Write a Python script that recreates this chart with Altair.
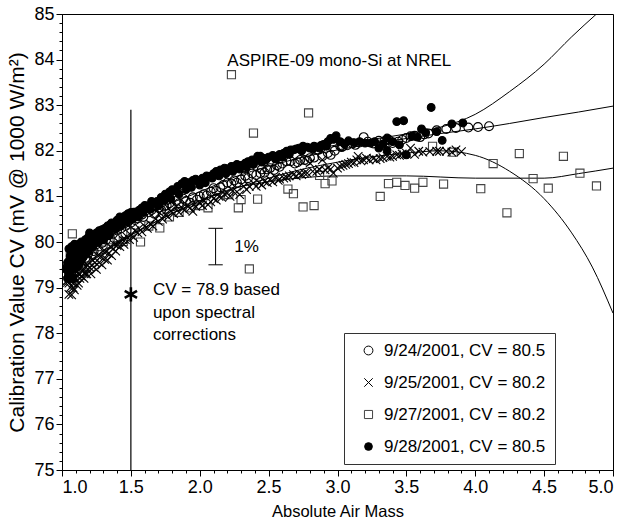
import altair as alt
import pandas as pd

FONT = "Liberation Sans"

# ---------------- measured data (read from the picture) ----------------
# 9/24/2001 (open circles)
c24_x = [1.04, 1.05, 1.06, 1.07, 1.08, 1.09, 1.10, 1.11, 1.12, 1.14, 1.16, 1.18, 1.20, 1.22, 1.24,
         1.26, 1.28, 1.30, 1.33, 1.36, 1.39, 1.42, 1.45, 1.48, 1.52, 1.55, 1.58, 1.61, 1.65, 1.70,
         1.74, 1.78, 1.83, 1.88, 1.93, 1.98, 2.03, 2.08, 2.10, 2.15, 2.20, 2.25, 2.30, 2.33, 2.33,
         2.38, 2.44, 2.45, 2.49, 2.51, 2.56, 2.60, 2.63, 2.66, 2.69, 2.73, 2.76, 2.80, 2.86, 2.89,
         2.90, 2.95, 3.02, 3.03, 3.04, 3.11, 3.13, 3.19, 3.22, 3.26, 3.34, 3.40, 3.47, 3.53, 3.60,
         3.66, 3.72, 3.79, 3.86, 3.95, 4.02, 4.10,
         1.11, 1.13, 1.15, 1.17, 1.19, 1.21, 1.23, 1.25, 1.27, 1.29, 1.31, 1.32, 1.34, 1.35, 1.37,
         1.38, 1.40, 1.41, 1.43, 1.44, 1.46, 1.47, 1.50, 1.53, 1.56, 1.59, 1.63, 1.67, 1.68, 1.72,
         1.76, 1.80, 1.85, 1.90, 1.95, 2.00, 2.05, 2.12, 2.17, 2.23, 2.27, 2.35, 2.41, 2.47, 2.54,
         2.58, 2.71, 2.78, 2.83, 2.93, 2.98, 3.07, 3.16, 3.30, 3.37, 3.44, 3.50, 3.56, 3.63]
c24_y = [79.45, 79.25, 79.60, 79.35, 79.70, 79.50, 79.75, 79.55, 79.80, 79.70, 79.85, 79.80, 79.95, 79.90, 80.05,
         80.00, 80.10, 80.08, 80.20, 80.25, 80.30, 80.35, 80.40, 80.45, 80.64, 80.52, 80.60, 80.78, 80.70, 80.75,
         80.78, 80.85, 80.90, 80.95, 80.86, 80.93, 81.05, 81.10, 81.18, 81.20, 81.30, 81.35, 81.37, 81.45, 81.62,
         81.50, 81.51, 81.59, 81.59, 81.62, 81.68, 81.72, 81.77, 81.77, 81.72, 81.80, 81.80, 81.84, 82.02, 81.88,
         82.13, 81.91, 82.10, 82.08, 82.10, 82.16, 82.13, 82.30, 82.20, 82.16, 82.21, 82.17, 82.24, 82.32, 82.30,
         82.38, 82.45, 82.48, 82.50, 82.51, 82.52, 82.54,
         79.90, 79.60, 79.90, 79.65, 79.75, 80.00, 79.80, 79.95, 80.05, 79.98, 80.15, 80.05, 80.15, 80.30, 80.18,
         80.35, 80.25, 80.40, 80.30, 80.45, 80.35, 80.50, 80.42, 80.48, 80.60, 80.55, 80.65, 80.62, 80.78, 80.70,
         80.80, 80.78, 80.85, 80.90, 80.98, 81.00, 81.02, 81.12, 81.25, 81.28, 81.30, 81.40, 81.47, 81.52, 81.58,
         81.65, 81.75, 81.78, 81.85, 81.95, 82.00, 82.12, 82.18, 82.22, 82.25, 82.20, 82.28, 82.33, 82.36]

# 9/25/2001 (crosses)
c25_x = [1.04, 1.05, 1.05, 1.06, 1.06, 1.07, 1.07, 1.08, 1.08, 1.09, 1.09, 1.10, 1.10, 1.11, 1.12,
         1.13, 1.14, 1.15, 1.16, 1.18, 1.20, 1.22, 1.24, 1.26, 1.28, 1.30, 1.32, 1.35, 1.38, 1.41,
         1.44, 1.47, 1.50, 1.53, 1.56, 1.60, 1.64, 1.68, 1.71, 1.75, 1.79, 1.83, 1.87, 1.91, 1.95,
         2.00, 2.03, 2.06, 2.10, 2.14, 2.18, 2.20, 2.24, 2.29, 2.32, 2.36, 2.39, 2.43, 2.47, 2.51,
         2.55, 2.58, 2.61, 2.65, 2.68, 2.72, 2.76, 2.78, 2.80, 2.82, 2.87, 2.89, 2.93, 2.97, 3.02,
         3.06, 3.10, 3.14, 3.15, 3.19, 3.21, 3.26, 3.28, 3.33, 3.36, 3.40, 3.43, 3.47, 3.50, 3.53,
         3.56, 3.59, 3.62, 3.67, 3.72, 3.74, 3.79, 3.83, 3.86, 3.90,
         1.05, 1.06, 1.08, 1.09, 1.11, 1.12, 1.13, 1.15, 1.17, 1.19,
         1.12, 1.14, 1.16, 1.18, 1.20, 1.21, 1.23, 1.25, 1.27, 1.29, 1.31, 1.33, 1.34, 1.36, 1.37,
         1.39, 1.40, 1.42, 1.45, 1.46, 1.49, 1.52, 1.55, 1.58, 1.62, 1.66, 1.70, 1.73, 1.77, 1.81,
         1.85, 1.89, 1.93, 1.97, 2.02, 2.08, 2.12, 2.16, 2.22, 2.27, 2.34, 2.41, 2.45, 2.49, 2.53,
         2.57, 2.63, 2.70, 2.74, 2.85, 2.91, 2.95, 3.00, 3.04, 3.08, 3.12, 3.17, 3.23, 3.31, 3.38, 3.45]
c25_y = [79.15, 78.85, 79.45, 79.00, 79.60, 78.84, 79.30, 79.10, 79.50, 78.95, 79.40, 79.20, 79.60, 79.35, 79.10,
         79.45, 79.25, 79.55, 79.40, 79.50, 79.45, 79.60, 79.55, 79.70, 79.68, 79.80, 79.78, 79.90, 79.95, 80.00,
         80.05, 80.12, 80.15, 80.25, 80.30, 80.35, 80.40, 80.50, 80.64, 80.60, 80.68, 80.78, 80.75, 80.80, 80.67,
         80.85, 80.90, 80.82, 80.95, 81.00, 81.05, 81.07, 81.12, 81.04, 81.22, 81.22, 81.29, 81.30, 81.33, 81.37,
         81.42, 81.38, 81.40, 81.45, 81.48, 81.50, 81.51, 81.51, 81.73, 81.55, 81.59, 81.80, 81.62, 81.51, 81.66,
         81.70, 81.75, 81.80, 81.88, 81.80, 81.84, 81.83, 81.80, 81.85, 81.88, 81.88, 81.91, 81.93, 81.95, 82.06,
         81.92, 81.99, 81.97, 81.98, 81.99, 81.99, 81.99, 81.97, 82.02, 81.98,
         79.10, 79.25, 79.00, 79.20, 79.05, 79.30, 79.20, 79.35, 79.30, 79.40,
         79.55, 79.65, 79.20, 79.30, 79.70, 79.30, 79.45, 79.40, 79.55, 79.50, 79.62, 79.60, 79.75, 79.70, 79.85,
         79.80, 79.92, 79.90, 79.95, 80.05, 80.05, 80.10, 80.20, 80.22, 80.30, 80.35, 80.45, 80.50, 80.55, 80.62,
         80.65, 80.70, 80.75, 80.78, 80.80, 80.88, 80.92, 80.98, 81.00, 81.10, 81.15, 81.22, 81.25, 81.30, 81.32,
         81.35, 81.42, 81.45, 81.48, 81.55, 81.58, 81.60, 81.62, 81.68, 81.72, 81.74, 81.78, 81.80, 81.83, 81.86, 81.90]

# 9/27/2001 (open squares)
c27_x = [1.05, 1.06, 1.07, 1.075, 1.08, 1.09, 1.10, 1.12, 1.15, 1.18, 1.22, 1.26, 1.30, 1.35, 1.40,
         1.445, 1.50, 1.57, 1.63, 1.71, 1.78, 1.85, 1.93, 2.00, 2.06, 2.21, 2.23, 2.28, 2.30, 2.36,
         2.39, 2.42, 2.64, 2.68, 2.75, 2.79, 2.83, 2.87, 2.91, 2.96, 3.31, 3.37, 3.43, 3.49, 3.56,
         3.62, 3.69, 3.77, 3.84, 4.04, 4.13, 4.23, 4.32, 4.42, 4.53, 4.64, 4.76, 4.88]
c27_y = [79.40, 79.70, 79.20, 80.18, 79.55, 79.85, 79.45, 79.65, 79.75, 79.60, 79.85, 79.90, 80.00, 80.05, 80.10,
         80.01, 80.20, 80.00, 80.35, 80.31, 80.55, 80.65, 80.75, 80.80, 80.75, 81.04, 83.67, 80.75, 80.93, 79.41,
         82.39, 80.94, 81.16, 81.06, 80.77, 82.83, 80.80, 81.46, 81.28, 81.34, 81.00, 81.28, 81.31, 81.24, 81.18,
         81.31, 82.10, 81.27, 81.97, 81.17, 81.72, 80.64, 81.94, 81.39, 81.18, 81.88, 81.51, 81.23]

# 9/28/2001 (filled dots)
c28_x = [1.04, 1.05, 1.05, 1.06, 1.06, 1.07, 1.07, 1.08, 1.08, 1.09, 1.09, 1.10, 1.10, 1.11, 1.12,
         1.12, 1.13, 1.14, 1.15, 1.16, 1.17, 1.18, 1.19, 1.20, 1.21, 1.22, 1.23, 1.24, 1.25, 1.26,
         1.27, 1.28, 1.29, 1.30, 1.31, 1.32, 1.33, 1.34, 1.35, 1.36, 1.38, 1.40, 1.42, 1.44, 1.46,
         1.48, 1.50, 1.52, 1.54, 1.56, 1.58, 1.60, 1.62, 1.65, 1.67, 1.69, 1.72, 1.75, 1.78, 1.80,
         1.82, 1.84, 1.87, 1.89, 1.92, 1.95, 1.97, 1.99, 2.02, 2.05, 2.07, 2.10, 2.12, 2.15, 2.18,
         2.20, 2.23, 2.25, 2.27, 2.30, 2.33, 2.35, 2.38, 2.40, 2.42, 2.44, 2.46, 2.50, 2.53, 2.56,
         2.58, 2.61, 2.63, 2.66, 2.68, 2.70, 2.72, 2.75, 2.78, 2.80, 2.83, 2.85, 2.88, 2.90, 2.93,
         2.95, 2.97, 2.99, 3.02, 3.05, 3.08, 3.12, 3.16, 3.20, 3.24, 3.27, 3.30, 3.33, 3.36, 3.36,
         3.40, 3.43, 3.45, 3.48, 3.50, 3.54, 3.58, 3.61, 3.64, 3.68, 3.72, 3.76, 3.83, 3.91,
         1.03, 1.04, 1.06, 1.08, 1.11, 1.13, 1.15, 1.17, 1.19, 1.22, 1.26, 1.30, 1.34, 1.39, 1.43,
         1.47, 1.51, 1.55, 1.59, 1.64, 1.70, 1.74, 1.79, 1.85, 1.90, 1.94, 2.00, 2.04, 2.09, 2.14,
         2.19, 2.24, 2.29, 2.34, 2.39, 2.45, 2.48, 2.55, 2.60, 2.65, 2.74, 2.82, 2.87, 2.92]
c28_y = [79.55, 79.85, 79.30, 79.70, 79.45, 79.90, 79.60, 79.75, 79.40, 79.95, 79.65, 79.85, 79.55, 79.75, 79.95,
         79.65, 79.85, 80.00, 79.80, 79.95, 80.05, 79.85, 80.10, 80.20, 79.95, 80.05, 80.15, 80.00, 80.20, 80.10,
         80.25, 80.15, 80.27, 80.20, 80.30, 80.25, 80.35, 80.28, 80.38, 80.42, 80.40, 80.48, 80.55, 80.50, 80.58,
         80.62, 80.65, 80.60, 80.66, 80.70, 80.75, 80.80, 80.78, 80.89, 80.85, 80.89, 80.98, 81.05, 81.10, 81.15,
         81.12, 81.22, 81.28, 81.33, 81.30, 81.35, 81.38, 81.33, 81.40, 81.45, 81.44, 81.50, 81.55, 81.58, 81.62,
         81.60, 81.66, 81.65, 81.70, 81.68, 81.73, 81.76, 81.80, 81.78, 81.88, 81.88, 81.84, 81.86, 81.90, 81.88,
         81.92, 81.95, 81.99, 82.02, 82.02, 82.04, 82.06, 82.10, 82.08, 82.06, 82.10, 82.08, 82.12, 82.13, 82.20,
         82.27, 82.25, 82.33, 82.20, 82.15, 82.22, 82.18, 82.20, 82.17, 82.17, 82.20, 82.06, 82.15, 82.28, 82.01,
         82.20, 82.64, 82.13, 82.66, 81.91, 82.32, 82.30, 82.48, 82.40, 82.95, 82.42, 82.23, 82.59, 82.61,
         79.40, 79.20, 79.25, 79.20, 79.45, 79.55, 79.65, 79.75, 79.80, 79.90, 80.00, 80.05, 80.15, 80.30, 80.38,
         80.45, 80.50, 80.55, 80.65, 80.72, 80.80, 80.90, 80.95, 81.05, 81.15, 81.20, 81.25, 81.30, 81.40, 81.45,
         81.50, 81.55, 81.60, 81.65, 81.70, 81.75, 81.80, 81.82, 81.86, 81.92, 82.00, 82.04, 82.06, 82.10]

# fitted curves
fit24_x = [1.0, 1.25, 1.5, 1.75, 2.0, 2.25, 2.5, 2.75, 3.0, 3.25, 3.5, 3.75, 4.0, 4.25, 4.5, 4.75, 5.0]
fit24_y = [79.35, 79.95, 80.40, 80.80, 81.10, 81.42, 81.66, 81.86, 82.02, 82.15, 82.27, 82.38, 82.48, 82.60, 82.73, 82.85, 82.98]
fit25_x = [1.0, 1.25, 1.5, 1.75, 2.0, 2.25, 2.5, 2.75, 3.0, 3.25, 3.5, 3.75, 4.0, 4.25, 4.5, 4.7, 4.85, 5.0]
fit25_y = [79.05, 79.70, 80.15, 80.55, 80.90, 81.17, 81.40, 81.60, 81.75, 81.87, 81.95, 82.00, 81.90, 81.55, 80.95, 80.20, 79.45, 78.44]
fit27_x = [1.0, 1.25, 1.5, 1.75, 2.0, 2.25, 2.5, 2.75, 3.0, 3.5, 4.0, 4.5, 4.75, 5.0]
fit27_y = [79.00, 79.65, 80.15, 80.55, 80.90, 81.18, 81.32, 81.41, 81.45, 81.45, 81.40, 81.40, 81.50, 81.62]
fit28_x = [1.0, 1.25, 1.5, 1.75, 2.0, 2.25, 2.5, 2.75, 3.0, 3.25, 3.5, 3.75, 4.0, 4.25, 4.5, 4.7, 4.88]
fit28_y = [79.45, 80.10, 80.60, 81.00, 81.30, 81.62, 81.85, 82.00, 82.13, 82.25, 82.37, 82.52, 82.80, 83.30, 83.90, 84.50, 85.00]

SERIES = ["9/24/2001, CV = 80.5", "9/25/2001, CV = 80.2", "9/27/2001, CV = 80.2", "9/28/2001, CV = 80.5"]

# annotations
vline_x, vline_lo, vline_hi = [1.5], [75.0], [82.9]
star_x, star_y = [1.5], [78.85]
note_x = [2.20, 1.66, 1.66, 1.66, 2.25]
note_y = [83.98, 78.95, 78.45, 77.95, 79.90]
note_t = ["ASPIRE-09 mono-Si at NREL", "CV = 78.9 based", "upon spectral", "corrections", "1%"]
bar_x, bar_lo, bar_hi = [2.115], [79.5], [80.3]
cap_x1, cap_x2, cap_y = [2.063, 2.063], [2.167, 2.167], [80.3, 79.5]

x_major = [1.0, 1.5, 2.0, 2.5, 3.0, 3.5, 4.0, 4.5, 5.0]
y_major = [75, 76, 77, 78, 79, 80, 81, 82, 83, 84, 85]
x_minor = [round(1.0 + 0.1 * i, 1) for i in range(41)]
y_minor = [round(75.0 + 0.2 * i, 1) for i in range(51)]

# ---------------- tables ----------------
rows = []
for name, xs_, ys_ in [(SERIES[2], c27_x, c27_y), (SERIES[0], c24_x, c24_y),
                       (SERIES[1], c25_x, c25_y), (SERIES[3], c28_x, c28_y)]:
    for a, b in zip(xs_, ys_):
        rows.append({"series": name, "am": a, "cv": b})
pts = pd.DataFrame(rows)

frows = []
for name, xs_, ys_ in [("f24", fit24_x, fit24_y), ("f25", fit25_x, fit25_y),
                       ("f27", fit27_x, fit27_y), ("f28", fit28_x, fit28_y)]:
    for a, b in zip(xs_, ys_):
        frows.append({"curve": name, "am": a, "cv": b})
fits = pd.DataFrame(frows)

XS = alt.Scale(domain=[1, 5], nice=False, zero=False)
YS = alt.Scale(domain=[75, 85], nice=False, zero=False)

X_PATH = "M-1,-1L1,1M-1,1L1,-1"
STAR_PATH = "M0,-1L0,1M-0.87,-0.5L0.87,0.5M-0.87,0.5L0.87,-0.5"
NBSP = "\u00a0"

legend = alt.Legend(title=None, orient="none", legendX=282, legendY=319, padding=9,
                    rowPadding=14, labelFontSize=17, labelFont=FONT, labelColor="black",
                    labelLimit=400, strokeColor="#333333", fillColor="white",
                    symbolStrokeColor="black", symbolStrokeWidth=1, labelOffset=7,
                    symbolOffset=7, labelExpr="datum.label + '" + NBSP * 4 + "'")

major_x = alt.Axis(values=x_major, format=".1f", title="Absolute Air Mass", orient="bottom",
                   tickSize=6, labelFontSize=18, titleFontSize=16.5, labelPadding=2,
                   titlePadding=7, grid=False)
major_y = alt.Axis(values=y_major, format="d", title="Calibration Value CV (mV @ 1000 W/m²)",
                   orient="left", tickSize=6, labelFontSize=18, titleFontSize=21,
                   labelPadding=2, titlePadding=6, grid=False)
minor_x = alt.Axis(values=x_minor, labels=False, title=None, orient="bottom", tickSize=3,
                   domain=False, grid=False)
minor_y = alt.Axis(values=y_minor, labels=False, title=None, orient="left", tickSize=3,
                   domain=False, grid=False)

points = alt.Chart(pts).mark_point(filled=False, color="black", strokeWidth=1.1, opacity=1).encode(
    x=alt.X("am:Q", scale=XS, axis=major_x),
    y=alt.Y("cv:Q", scale=YS, axis=major_y),
    shape=alt.Shape("series:N", scale=alt.Scale(domain=SERIES, range=["circle", X_PATH, "square", "circle"]), legend=legend),
    size=alt.Size("series:N", scale=alt.Scale(domain=SERIES, range=[78, 60, 50, 20]), legend=legend),
    fill=alt.Fill("series:N", scale=alt.Scale(domain=SERIES, range=["transparent", "transparent", "transparent", "black"]), legend=legend),
    stroke=alt.Stroke("series:N", scale=alt.Scale(domain=SERIES, range=["black", "black", "#444444", "black"]), legend=legend),
)

lines = alt.Chart(fits).mark_line(color="black", strokeWidth=1, clip=True, interpolate="monotone").encode(
    x=alt.X("am:Q", scale=XS, axis=minor_x),
    y=alt.Y("cv:Q", scale=YS, axis=minor_y),
    detail="curve:N",
)

vline = alt.Chart(pd.DataFrame({"x": vline_x, "lo": vline_lo, "hi": vline_hi})).mark_rule(
    color="black", strokeWidth=1.2).encode(
    x=alt.X("x:Q", scale=XS, axis=None), y=alt.Y("lo:Q", scale=YS, axis=None), y2="hi:Q")

star = alt.Chart(pd.DataFrame({"x": star_x, "y": star_y})).mark_point(
    shape=STAR_PATH, size=200, strokeWidth=2.6, color="black", filled=False, opacity=1).encode(
    x=alt.X("x:Q", scale=XS, axis=None), y=alt.Y("y:Q", scale=YS, axis=None))

notes = alt.Chart(pd.DataFrame({"x": note_x, "y": note_y, "t": note_t})).mark_text(
    align="left", baseline="middle", fontSize=17, font=FONT, color="black").encode(
    x=alt.X("x:Q", scale=XS, axis=None), y=alt.Y("y:Q", scale=YS, axis=None), text="t:N")

bar = alt.Chart(pd.DataFrame({"x": bar_x, "lo": bar_lo, "hi": bar_hi})).mark_rule(
    color="black", strokeWidth=1).encode(
    x=alt.X("x:Q", scale=XS, axis=None), y=alt.Y("lo:Q", scale=YS, axis=None), y2="hi:Q")

caps = alt.Chart(pd.DataFrame({"x1": cap_x1, "x2": cap_x2, "y": cap_y})).mark_rule(
    color="black", strokeWidth=1).encode(
    x=alt.X("x1:Q", scale=XS, axis=None), x2="x2:Q", y=alt.Y("y:Q", scale=YS, axis=None))

chart = alt.layer(lines, points, vline, star, notes, bar, caps).resolve_axis(
    x="independent", y="independent"
).properties(
    width=551, height=456,
    autosize=alt.AutoSizeParams(type="none"),
    padding={"left": 62, "top": 14, "right": 14, "bottom": 55},
    background="white",
).configure_view(
    stroke="black", strokeWidth=1
).configure_axis(
    labelFont=FONT, titleFont=FONT, labelColor="black", titleColor="black",
    tickColor="black", domainColor="black", titleFontWeight="normal",
).configure_legend(
    labelFont=FONT
)

chart.save("out.html", embed_options={"renderer": "svg", "actions": False})
